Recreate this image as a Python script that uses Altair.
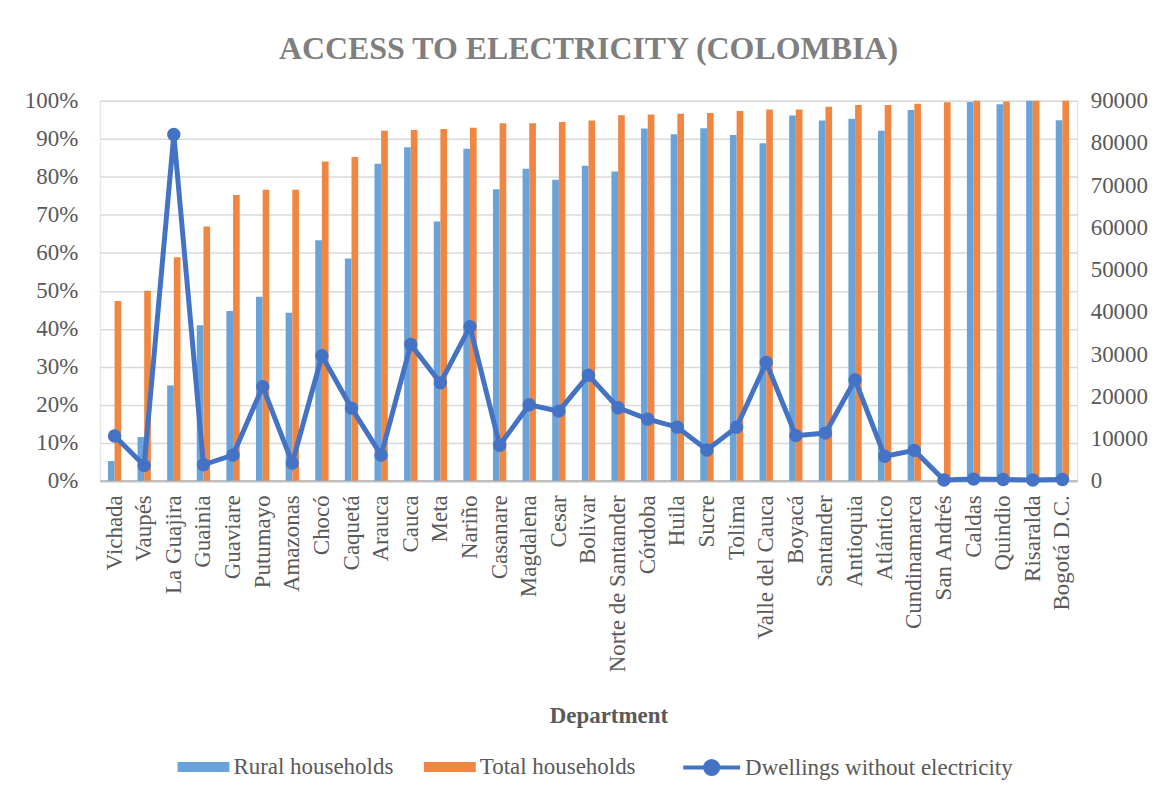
import altair as alt
import pandas as pd

departments = ["Vichada", "Vaupés", "La Guajira", "Guainia", "Guaviare", "Putumayo",
               "Amazonas", "Chocó", "Caquetá", "Arauca", "Cauca", "Meta", "Nariño",
               "Casanare", "Magdalena", "Cesar", "Bolivar", "Norte de Santander",
               "Córdoba", "Huila", "Sucre", "Tolima", "Valle del Cauca", "Boyacá",
               "Santander", "Antioquia", "Atlántico", "Cundinamarca", "San Andrés",
               "Caldas", "Quindio", "Risaralda", "Bogotá D.C."]

rural = [0.052, 0.115, 0.251, 0.409, 0.447, 0.484, 0.442, 0.633, 0.585, 0.834,
         0.878, 0.682, 0.874, 0.767, 0.821, 0.792, 0.829, 0.814, 0.927, 0.912,
         0.928, 0.910, 0.888, 0.961, 0.948, 0.953, 0.921, 0.976, 0.0, 0.997,
         0.991, 1.0, 0.949]

total = [0.473, 0.500, 0.588, 0.669, 0.752, 0.766, 0.766, 0.840, 0.852, 0.921,
         0.923, 0.926, 0.929, 0.941, 0.941, 0.944, 0.948, 0.962, 0.964, 0.966,
         0.968, 0.973, 0.977, 0.977, 0.984, 0.989, 0.989, 0.992, 0.996, 1.0,
         0.998, 1.0, 1.0]

dwellings = [10600, 3600, 82000, 3800, 6100, 22300, 4200, 29600, 17200, 6100,
             32300, 23200, 36500, 8400, 18000, 16500, 25000, 17300, 14600, 12700,
             7300, 12700, 28000, 10700, 11300, 23900, 5800, 7200, 200, 400,
             300, 200, 300]

series_names = ["Rural households", "Total households"]
line_name = "Dwellings without electricity"

bar_rows = []
for d, r, t in zip(departments, rural, total):
    bar_rows.append({"Department": d, "Series": series_names[0], "Value": r})
    bar_rows.append({"Department": d, "Series": series_names[1], "Value": t})
bar_df = pd.DataFrame(bar_rows)
line_df = pd.DataFrame({"Department": departments, "Dwellings": dwellings,
                        "Series": [line_name] * len(departments)})

FONT = "Liberation Serif"
TXT = "#595959"

x_enc = alt.X("Department:N", sort=departments,
              scale=alt.Scale(type="band", paddingInner=0.55, paddingOuter=0.275),
              axis=alt.Axis(title="Department", labelAngle=-90, labelFontSize=23,
                            labelFont=FONT, labelColor=TXT, labelPadding=14,
                            ticks=False, domainColor="#bfbfbf", domainWidth=2.5,
                            titleFont=FONT, titleFontSize=23, titleFontWeight="bold",
                            titleColor=TXT, titleY=235, titleBaseline="middle",
                            titleX=510, labelLimit=300, labelOverlap=False))

bars = alt.Chart(bar_df).mark_bar().encode(
    x=x_enc,
    xOffset=alt.XOffset("Series:N", sort=series_names,
                        scale=alt.Scale(paddingInner=0, paddingOuter=0)),
    y=alt.Y("Value:Q", scale=alt.Scale(domain=[0, 1], nice=False),
            axis=alt.Axis(format=".0%", values=[i / 10 for i in range(11)],
                          title=None, grid=True, gridColor="#d9d9d9", gridWidth=1.5,
                          domain=False, ticks=False, labelPadding=22,
                          labelFontSize=23, labelFont=FONT, labelColor=TXT)),
    fill=alt.Fill("Series:N",
                  scale=alt.Scale(domain=series_names, range=["#6aa3d9", "#ef8743"]),
                  legend=alt.Legend(title=None, orient="none", direction="horizontal",
                                    legendX=78, legendY=642,
                                    symbolType="M-1,-0.19H1V0.19H-1Z", symbolSize=2704,
                                    symbolStrokeWidth=0, labelOffset=4,
                                    columnPadding=30, labelFontSize=23, labelFont=FONT,
                                    labelColor=TXT, labelLimit=400, padding=0)),
)

right_axis = alt.Axis(orient="right", format="d",
                      values=list(range(0, 90001, 10000)), title=None,
                      grid=False, domain=False, ticks=False, labelPadding=13,
                      labelFontSize=23, labelFont=FONT, labelColor=TXT)
right_scale = alt.Scale(domain=[0, 90000], nice=False)

line = alt.Chart(line_df).mark_line(strokeWidth=5).encode(
    x=alt.X("Department:N", sort=departments),
    y=alt.Y("Dwellings:Q", scale=right_scale, axis=right_axis),
    stroke=alt.Stroke("Series:N",
                      scale=alt.Scale(domain=[line_name], range=["#4472c4"]),
                      legend=alt.Legend(title=None, orient="none", direction="horizontal",
                                        legendX=583, legendY=638,
                                        symbolType="M-1,0H1M-0.23,0A0.23,0.23 0 1,0 0.23,0A0.23,0.23 0 1,0 -0.23,0",
                                        symbolSize=3249, symbolStrokeWidth=4,
                                        symbolFillColor="#4472c4", labelOffset=3,
                                        labelFontSize=23, labelFont=FONT,
                                        labelColor=TXT, labelLimit=400, padding=0)),
)

points = alt.Chart(line_df).mark_circle(size=180, opacity=1, color="#4472c4").encode(
    x=alt.X("Department:N", sort=departments),
    y=alt.Y("Dwellings:Q", scale=right_scale, axis=right_axis),
)

right_layer = alt.layer(line, points)

chart = alt.layer(bars, right_layer).resolve_scale(y="independent").properties(
    width=980, height=381,
    autosize=alt.AutoSizeParams(type="none"),
    padding={"left": 92, "top": 92, "right": 85, "bottom": 312},
    title=alt.Title("ACCESS TO ELECTRICITY (COLOMBIA)", font=FONT, fontSize=32,
                    fontWeight="bold", color="#7f7f7f", anchor="middle", offset=24),
).configure_view(stroke=None).configure(background="white", font=FONT).configure_axis(
    labelFont=FONT, titleFont=FONT
).configure_legend(labelFont=FONT, labelFontSize=23, labelColor=TXT)

chart.save("out.html", embed_options={"renderer": "svg", "actions": False})
